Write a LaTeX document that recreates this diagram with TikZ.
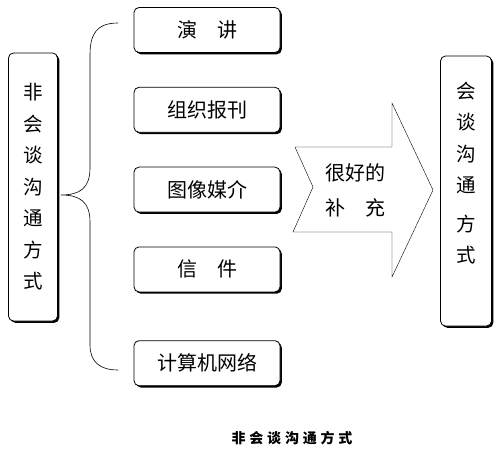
\documentclass[tikz,border=0pt]{standalone}
\usepackage{fontspec}
\setmainfont{Noto Sans CJK SC}
\usetikzlibrary{positioning,shadows}

\tikzset{
  boxshade/.style={drop shadow={shadow xshift=1.8pt,shadow yshift=-1.8pt,fill=black,opacity=1}},
  itembox/.style={draw,thick,rounded corners=5pt,fill=white,boxshade,
    minimum width=146pt,minimum height=45pt,inner sep=2pt,font=\fontsize{20}{22}\selectfont},
  sidebox/.style={draw,thick,rounded corners=5pt,fill=white,boxshade,
    minimum width=49pt,inner sep=2pt},
  vtext/.style={align=center,font=\fontsize{19.5}{31.5}\selectfont},
}

\begin{document}
\begin{tikzpicture}[x=1pt,y=-1pt]
\useasboundingbox (0,0) rectangle (500,457);
% left: the non-talk ways
\node[sidebox,minimum height=268pt,vtext] (nontalk) at (33,187)
  {非\\会\\谈\\沟\\通\\方\\式};
% the five ways, top to bottom
\node[itembox] (speech) at (207,30) {演\hspace{1em}讲};
\node[itembox,below=34pt of speech] (press) {组织报刊};
\node[itembox,below=34pt of press] (media) {图像媒介};
\node[itembox,below=34pt of media] (letter) {信\hspace{1em}件};
\node[itembox,below=48pt of letter] (network) {计算机网络};
% brace from the left box to the five ways
\coordinate (bracetop) at (118,23);
\coordinate (bracebot) at (118,370);
\draw[semithick] (bracetop) .. controls (96,23) and (90,35) .. (90,55)
  -- (90,168) .. controls (90,188) and (80,195) .. ([xshift=3pt]nontalk.east |- 0,195)
  .. controls (80,195) and (90,202) .. (90,222)
  -- (90,345) .. controls (90,362) and (100,370) .. (bracebot);
% the big arrow
\draw (295,147) -- (392,147) -- (392,103) -- (433,190) -- (392,277)
  -- (392,232) -- (293,232) -- (313,187) -- cycle;
\node[align=center,font=\fontsize{20}{35}\selectfont] (help) at (355,190)
  {很好的\\补\hspace{1em}充};
% right: the talk ways
\node[sidebox,minimum width=51pt,minimum height=270pt] (talk) at (466,191) {};
\node[vtext,yshift=18pt] (talktext) at (talk.center)
  {会\\谈\\沟\\通\\[7pt]方\\式};
% caption
\node[font=\fontsize{14}{16}\selectfont\bfseries\addfontfeatures{LetterSpace=27}] (caption) at (292,438)
  {非会谈沟通方式};
\end{tikzpicture}
\end{document}
